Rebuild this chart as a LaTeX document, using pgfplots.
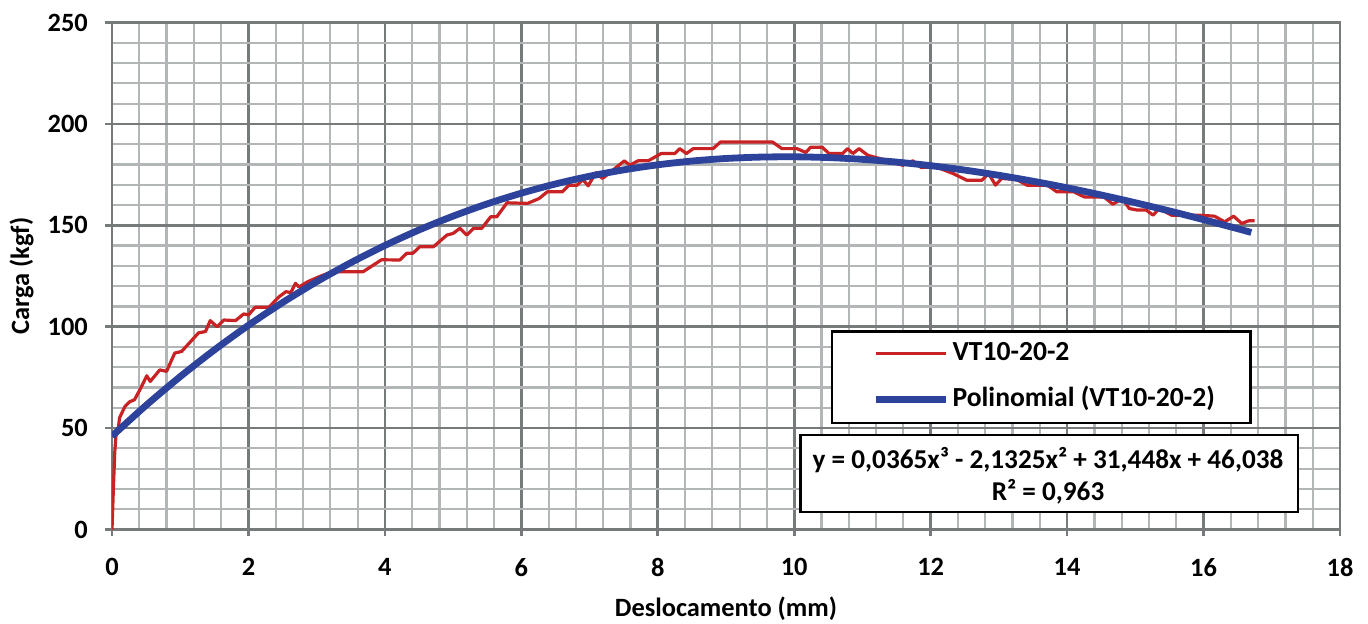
\documentclass[border=0pt]{standalone}
\usepackage{fontspec}
\setmainfont{Carlito}
\usepackage{pgfplots}
\pgfplotsset{compat=1.18}

\definecolor{majorgray}{RGB}{118,122,122}
\definecolor{minorgray}{RGB}{178,182,182}
\definecolor{curvered}{RGB}{200,34,36}
\definecolor{fitblue}{RGB}{45,66,155}

\newcommand{\tickfont}{\fontsize{13.2}{15}\selectfont\bfseries}
\newcommand{\labfont}{\fontsize{13.2}{15}\selectfont\bfseries}
\newcommand{\legfont}{\fontsize{13.8}{16}\selectfont\bfseries}
\newcommand{\eqfont}{\fontsize{13.6}{15.8}\selectfont\bfseries}

\begin{document}
\begin{tikzpicture}
\begin{axis}[
  scale only axis,
  width=614pt, height=253.5pt,
  xmin=0, xmax=18, ymin=0, ymax=250,
  xtick={0,2,...,18}, ytick={0,50,...,250},
  minor x tick num=4, minor y tick num=4,
  grid=both,
  major grid style={draw=majorgray, line width=1.3pt},
  minor grid style={draw=minorgray, line width=1.1pt},
  axis line style={draw=majorgray, line width=1.3pt},
  tick align=outside, tick pos=left,
  major tick length=3.3pt, minor tick length=0pt,
  every tick/.style={majorgray, line width=1.3pt},
  /pgf/number format/assume math mode=true,
  every tick label/.append style={font=\tickfont, inner sep=0pt},
  xticklabel shift=10.9pt, yticklabel shift=8.6pt,
  xlabel={Deslocamento (mm)}, ylabel={Carga (kgf)},
  every axis x label/.style={at={(axis description cs:0.5,-0.1565)}, anchor=center, font=\labfont},
  every axis y label/.style={at={(axis description cs:-0.0736,0.5)}, anchor=center, rotate=90, font=\labfont},
  legend image code/.code={\draw[#1] (0pt,0pt) -- (35pt,0pt);},
  legend cell align=left,
  legend style={draw=none, fill=none, at={(0.6189,0.3016)}, anchor=west,
    inner sep=0pt, row sep=11.3pt, column sep=1.7pt, font=\legfont,
    nodes={inner sep=0pt, text height=9.5pt, text depth=2.5pt}},
]
\coordinate (O) at (rel axis cs:0,0);

\addplot[color=curvered, line width=1.6pt, line join=round] coordinates {
(0,0) (0.02,20) (0.04,38) (0.06,47) (0.09,49) (0.11,55) (0.19,60.7) (0.26,63)
(0.33,64) (0.41,69) (0.51,75.8) (0.56,73) (0.70,78.7) (0.80,78) (0.92,87)
(1.02,87.8) (1.27,97) (1.37,97.6) (1.44,103) (1.54,100) (1.64,103.3) (1.81,103)
(1.93,106.3) (2.0,105.8) (2.10,109.6) (2.30,109.6) (2.45,114.8) (2.55,117.3)
(2.62,116.8) (2.69,121.4) (2.74,119.6) (2.87,122.2) (3.04,124.7) (3.23,127.1)
(3.43,127.1) (3.68,127.1) (3.95,133) (4.22,132.9) (4.32,136.2) (4.41,136.2)
(4.51,139.4) (4.71,139.4) (4.91,145.2) (5.00,146) (5.10,148.5) (5.20,145.2)
(5.30,148.5) (5.42,148.5) (5.55,154.2) (5.64,154.2) (5.79,161.1) (6.09,160.8)
(6.26,163.2) (6.38,166.5) (6.60,166.5) (6.70,169.8) (6.82,169.8) (6.90,172.6)
(6.98,169.5) (7.09,175.9) (7.19,173.1) (7.32,176.6) (7.51,181.8) (7.59,179.6)
(7.71,181.8) (7.86,181.8) (8.05,185.4) (8.25,185.4) (8.32,187.8) (8.42,185.4)
(8.52,187.8) (8.81,187.8) (8.92,191.1) (9.68,191.1) (9.82,187.8) (10.04,187.8)
(10.17,185.9) (10.24,188.5) (10.41,188.5) (10.51,185.4) (10.71,185.4) (10.78,187.8)
(10.86,185.4) (10.95,187.8) (11.08,184.5) (11.3,182.5) (11.5,180.5) (11.59,179.6)
(11.74,181.8) (11.86,178.5) (12.08,178.8) (12.33,175.5) (12.53,172.2) (12.75,172.2)
(12.85,175.5) (12.95,169.8) (13.04,173.1) (13.26,172.6) (13.41,169.8) (13.71,169.8)
(13.85,166.5) (14.10,166.5) (14.25,164) (14.54,164) (14.67,160.4) (14.81,163.2)
(14.91,158.3) (15.03,157.5) (15.16,157.5) (15.26,155) (15.35,158.3) (15.53,155)
(15.92,155) (16.16,154.5) (16.31,151.7) (16.44,154.5) (16.56,150.9) (16.66,152.2)
(16.75,152.2)
};

\addplot[color=fitblue, line width=3.4pt, smooth] coordinates {
(0,46.04) (0.5,61.23) (1,75.39) (1.5,88.53) (2,100.70) (2.5,111.90) (3,122.18)
(3.5,131.55) (4,140.05) (4.5,147.70) (5,154.53) (5.5,160.57) (6,165.84)
(6.5,170.38) (7,174.20) (7.5,177.34) (8,179.83) (8.5,181.69) (9,182.95)
(9.5,183.63) (10,183.77) (10.5,183.39) (11,182.52) (11.5,181.18) (12,179.41)
(12.5,177.22) (13,174.66) (13.5,171.74) (14,168.50) (14.5,164.95) (15,161.13)
(15.5,157.07) (16,152.79) (16.5,148.32) (16.7,146.48)
};

\legend{VT10-20-2, Polinomial (VT10-20-2)}

\draw[black, line width=1.2pt, fill=white] (axis cs:10.55,97.6) rectangle (axis cs:16.69,52.4);
\draw[black, line width=1.2pt, fill=white] (axis cs:10.09,46.6) rectangle (axis cs:17.38,8.5);
\node[align=center, font=\eqfont, inner sep=0pt] at (axis cs:13.72,26.45)
  {y = 0,0365x³ - 2,1325x² + 31,448x + 46,038\\R² = 0,963};
\end{axis}
\pgfresetboundingbox
\path (O) ++(-56pt,-46.75pt) rectangle ++(684pt,311.5pt);
\end{tikzpicture}
\end{document}
